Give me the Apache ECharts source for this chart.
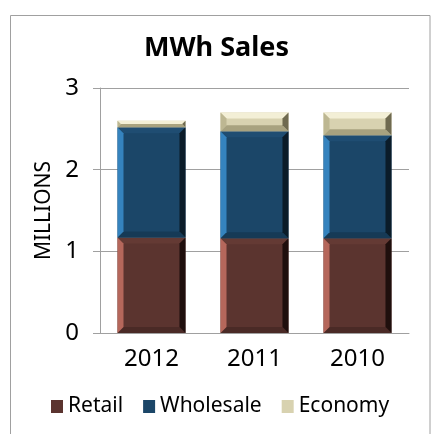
<!DOCTYPE html>
<html>
<head>
<meta charset="utf-8">
<script src="https://cdn.jsdelivr.net/npm/echarts@6/dist/echarts.min.js"></script>
<style>
  html, body { margin: 0; padding: 0; background: #fff; }
  #chart { width: 433px; height: 434px; }
</style>
</head>
<body>
<div id="chart"></div>
<script>
// data (millions of MWh)
var years = ['2012', '2011', '2010'];
var retail = [1.17, 1.16, 1.16];
var wholesale = [1.35, 1.31, 1.26];
var economy = [0.08, 0.23, 0.28];
var yTicks = [0, 1, 2, 3];

// bevel colours per series: face, left, right, top, bottom
var looks = {
    Retail: { face: '#5b342f', left: '#b5675b', right: '#1f0f0d', top: '#643a34', bottom: '#4a2a26' },
    Wholesale: { face: '#1b4668', left: '#3583be', right: '#0b1c29', top: '#1f4d72', bottom: '#163a56' },
    Economy: { face: '#d8d2b0', left: '#bdb792', right: '#6f6a50', top: '#f3efd6', bottom: '#a8a27f' }
};

// build stacked segments [cat, base, top]
function stackRows(vals, below) {
    return vals.map(function(v, i) {
        var b = 0;
        below.forEach(function(arr) { b += arr[i]; });
        return [i, b, b + v];
    });
}

function bevelItem(look) {
    return function(params, api) {
        var p0 = api.coord([api.value(0), api.value(1)]);
        var p1 = api.coord([api.value(0), api.value(2)]);
        var w = api.size([1, 0])[0] * 0.66;
        var x0 = p0[0] - w / 2, x1 = p0[0] + w / 2;
        var y0 = p1[1], y1 = p0[1];
        var b = Math.min(6, (y1 - y0) / 2);
        function poly(pts, c) {
            return { type: 'polygon', shape: { points: pts }, style: { fill: c } };
        }
        return {
            type: 'group',
            children: [
                { type: 'rect', shape: { x: x0, y: y0, width: w, height: y1 - y0 }, style: { fill: look.face } },
                poly([[x0, y0], [x1, y0], [x1 - b, y0 + b], [x0 + b, y0 + b]], look.top),
                poly([[x0, y1], [x1, y1], [x1 - b, y1 - b], [x0 + b, y1 - b]], look.bottom),
                poly([[x0, y0], [x0 + b, y0 + b], [x0 + b, y1 - b], [x0, y1]], look.left),
                poly([[x1, y0], [x1 - b, y0 + b], [x1 - b, y1 - b], [x1, y1]], look.right)
            ]
        };
    };
}

var rows = {
    Retail: stackRows(retail, []),
    Wholesale: stackRows(wholesale, [retail]),
    Economy: stackRows(economy, [retail, wholesale])
};

var series = ['Retail', 'Wholesale', 'Economy'].map(function(name) {
    return {
        name: name,
        type: 'custom',
        renderItem: bevelItem(looks[name]),
        itemStyle: { color: looks[name].face },
        encode: { x: 0, y: [1, 2] },
        data: rows[name]
    };
});

var gray = '#a0a0a0';
var font = 'Noto Sans';

var chart = echarts.init(document.getElementById('chart'));
chart.setOption({
    animation: false,
    textStyle: { fontFamily: font },
    graphic: [{
        type: 'rect',
        shape: { x: 10.5, y: 15.5, width: 419.5, height: 440 },
        style: { fill: 'none', stroke: gray, lineWidth: 1 },
        z: -1
    }],
    title: {
        text: 'MWh Sales',
        left: 'center',
        top: 30,
        textStyle: { fontFamily: font, fontSize: 27, fontWeight: 'bold', color: '#000' }
    },
    grid: { left: 100, right: 24, top: 88, bottom: 101 },
    xAxis: {
        type: 'category',
        data: years,
        axisLine: { lineStyle: { color: gray } },
        axisTick: { length: 7, lineStyle: { color: gray } },
        axisLabel: { color: '#000', fontSize: 24, margin: 14 }
    },
    yAxis: {
        type: 'value',
        min: yTicks[0],
        max: yTicks[yTicks.length - 1],
        interval: 1,
        name: 'MILLIONS',
        nameLocation: 'middle',
        nameRotate: 90,
        nameGap: 45,
        nameTextStyle: { color: '#000', fontSize: 21 },
        axisLine: { show: true, lineStyle: { color: gray } },
        axisTick: { show: true, length: 7, lineStyle: { color: gray } },
        axisLabel: { color: '#000', fontSize: 24, margin: 21 },
        splitLine: { lineStyle: { color: gray } }
    },
    legend: {
        bottom: 12,
        left: 46,
        itemWidth: 12,
        itemHeight: 13,
        itemGap: 20,
        icon: 'rect',
        textStyle: { color: '#000', fontSize: 21 },
        data: ['Retail', 'Wholesale', 'Economy']
    },
    series: series
});
</script>
</body>
</html>
